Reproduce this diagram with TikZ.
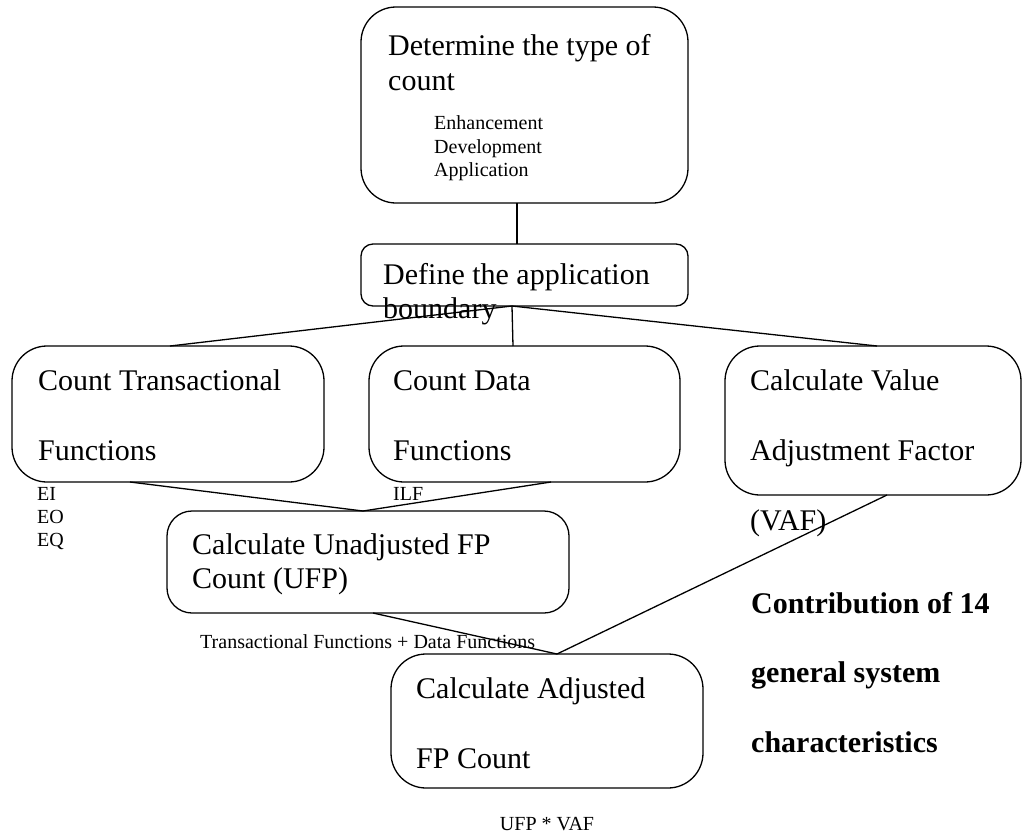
\documentclass[tikz,border=0pt]{standalone}
\usepackage{fontspec}
\setmainfont{Liberation Serif}
\usetikzlibrary{calc}
\begin{document}
\begin{tikzpicture}[x=1pt,y=-1pt,
  box/.style={draw, line width=1.3pt, inner sep=0pt, outer sep=0pt, anchor=north west},
  big/.style={font=\fontsize{30}{34}\selectfont, anchor=base west, inner sep=0pt},
  small/.style={font=\fontsize{20}{23}\selectfont, anchor=base west, inner sep=0pt},
  bigbold/.style={font=\fontsize{30}{34}\selectfont\bfseries, anchor=base west, inner sep=0pt},
  link/.style={line width=1.3pt}]
\useasboundingbox (0,0) rectangle (1023,833);
% boxes
\node[box, rounded corners=35pt, minimum width=327pt, minimum height=196pt] (top) at (361,7) {};
\node[box, rounded corners=12pt, minimum width=327pt, minimum height=62pt] (def) at (361,244) {};
\node[box, rounded corners=35pt, minimum width=312pt, minimum height=136pt] (ct) at (12,346) {};
\node[box, rounded corners=35pt, minimum width=311pt, minimum height=136pt] (cd) at (369,346) {};
\node[box, rounded corners=35pt, minimum width=296pt, minimum height=149pt] (vaf) at (725,346) {};
\node[box, rounded corners=25pt, minimum width=402pt, minimum height=102pt] (ufp) at (167,511) {};
\node[box, rounded corners=35pt, minimum width=312pt, minimum height=134pt] (afp) at (391,654) {};
% texts
\node[big] (t1a) at (388,55) {Determine the type of};
\node[big] (t1b) at (388,90) {count};
\node[small] (t1c) at (434,129) {Enhancement};
\node[small] (t1d) at (434,153) {Development};
\node[small] (t1e) at (434,176) {Application};
\node[big] (t2a) at (383,284) {Define the application};
\node[big] (t2b) at (383,318) {boundary};
\node[big] (t3a) at (38,390) {Count Transactional};
\node[big] (t3b) at (38,460) {Functions};
\node[big] (t4a) at (393,390) {Count Data};
\node[big] (t4b) at (393,460) {Functions};
\node[big] (t5a) at (750,390) {Calculate Value};
\node[big] (t5b) at (750,460) {Adjustment Factor};
\node[big] (t5c) at (750,530) {(VAF)};
\node[small] (ei) at (37,500) {EI};
\node[small] (eo) at (37,523) {EO};
\node[small] (eq) at (37,546) {EQ};
\node[small] (ilf) at (393,500) {ILF};
\node[big] (t6a) at (192,554) {Calculate Unadjusted FP};
\node[big] (t6b) at (192,588) {Count (UFP)};
\node[small] (t6c) at (200,648) {Transactional Functions + Data Functions};
\node[big] (t7a) at (416,698) {Calculate Adjusted};
\node[big] (t7b) at (416,768) {FP Count};
\node[small, anchor=base] (t7c) at (547,830) {UFP * VAF};
\node[bigbold] (c1) at (751,613) {Contribution of 14};
\node[bigbold] (c2) at (751,682) {general system};
\node[bigbold] (c3) at (751,752) {characteristics};
% connectors
\draw[link] ([xshift=-7.5pt]top.south) -- ([xshift=-7.5pt]def.north);
\draw[link] ([xshift=-12.5pt]def.south) -- ([xshift=2pt]ct.north);
\draw[link] ([xshift=-12.5pt]def.south) -- ([xshift=-11.5pt]cd.north);
\draw[link] ([xshift=-12.5pt]def.south) -- ([xshift=4pt]vaf.north);
\draw[link] ([xshift=-38pt]ct.south) -- ([xshift=-5pt]ufp.north);
\draw[link] ([xshift=26.5pt]cd.south) -- ([xshift=-5pt]ufp.north);
\draw[link] ([xshift=14pt]vaf.south) -- ([xshift=10pt]afp.north);
\draw[link] ([xshift=5pt]ufp.south) -- ([xshift=10pt]afp.north);
\end{tikzpicture}
\end{document}
